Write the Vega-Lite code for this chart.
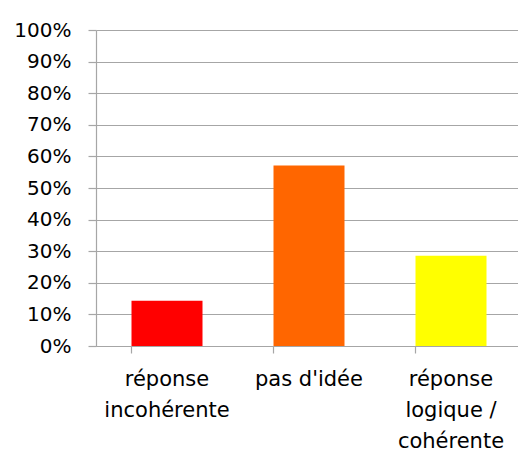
{
  "$schema": "https://vega.github.io/schema/vega-lite/v6.json",
  "width": 426,
  "height": 316,
  "autosize": "none",
  "padding": {"left": 96, "top": 30, "right": 0, "bottom": 111},
  "background": "white",
  "data": {"values": [
    {"categorie": "réponse incohérente", "part": 0.142857},
    {"categorie": "pas d'idée", "part": 0.571429},
    {"categorie": "réponse logique / cohérente", "part": 0.285714}
  ]},
  "mark": {"type": "bar"},
  "encoding": {
    "x": {
      "field": "categorie", "type": "nominal", "sort": null,
      "scale": {"paddingInner": 0.5, "paddingOuter": 0.25},
      "axis": {
        "title": null, "labelAngle": 0, "bandPosition": 0,
        "labelExpr": "datum.label == 'réponse incohérente' ? ['réponse', 'incohérente'] : datum.label == 'réponse logique / cohérente' ? ['réponse', 'logique /', 'cohérente'] : datum.label",
        "labelBaseline": "top", "labelLineHeight": 31, "labelPadding": 15,
        "labelFontSize": 21,
        "tickSize": 7, "grid": false
      }
    },
    "y": {
      "field": "part", "type": "quantitative",
      "scale": {"domain": [0, 1]},
      "axis": {
        "title": null, "format": ".0%",
        "values": [0, 0.1, 0.2, 0.3, 0.4, 0.5, 0.6, 0.7, 0.8, 0.9, 1],
        "tickSize": 8, "labelPadding": 17, "grid": true
      }
    },
    "color": {
      "field": "categorie", "type": "nominal", "sort": null, "legend": null,
      "scale": {
        "domain": ["réponse incohérente", "pas d'idée", "réponse logique / cohérente"],
        "range": ["#FF0000", "#FF6600", "#FFFF00"]
      }
    }
  },
  "config": {
    "view": {"stroke": null},
    "axis": {
      "labelFont": "DejaVu Sans", "labelFontSize": 20, "labelColor": "#000000",
      "domainColor": "#A6A6A6", "tickColor": "#A6A6A6", "gridColor": "#A6A6A6",
      "domainWidth": 1.2, "tickWidth": 1.2, "gridWidth": 1.2, "gridOpacity": 1
    }
  }
}
